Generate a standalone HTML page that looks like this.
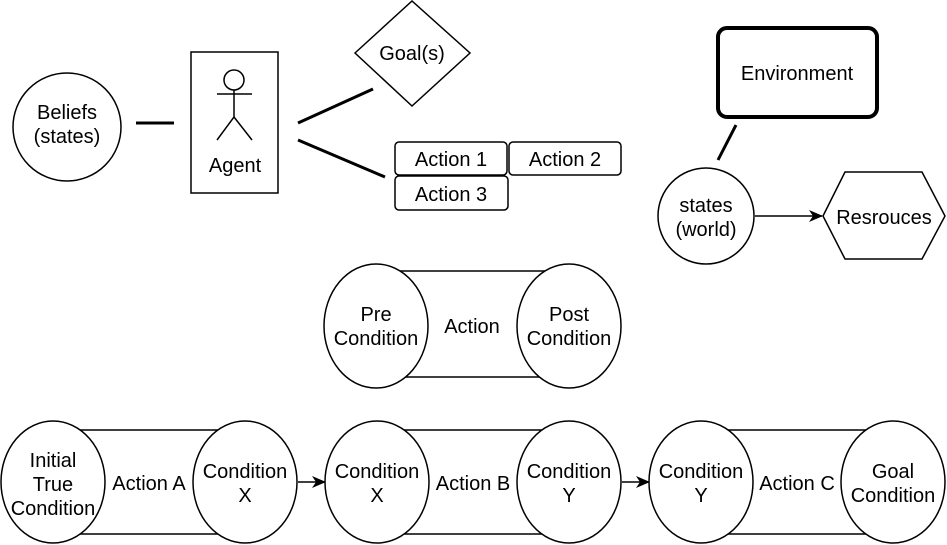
<!DOCTYPE html>
<html><head><style>
html,body{margin:0;padding:0;background:#fff;}
svg{display:block;}
text{font-family:"Liberation Sans",Arial,sans-serif;font-size:20px;fill:#000;text-anchor:middle;}
</style></head><body>
<svg width="947" height="545" viewBox="0 0 947 545" xmlns="http://www.w3.org/2000/svg">
<defs><marker id="ar" markerWidth="14" markerHeight="12" refX="13" refY="6" orient="auto" markerUnits="userSpaceOnUse"><path d="M0,0 L14,6 L0,12 L4,6 Z" fill="#000"/></marker></defs>
<g fill="#fff" stroke="#000" stroke-width="1.5">
<circle cx="67" cy="127" r="54"/>
<rect x="191" y="52" width="87" height="141"/>
<circle cx="234" cy="80" r="10"/>
<polygon points="355,53 412,1 470,53 412,106"/>
<rect x="395" y="142" width="112" height="33" rx="4"/>
<rect x="509" y="142" width="112" height="33" rx="4"/>
<rect x="395" y="176" width="113" height="34" rx="4"/>
<rect x="718" y="28" width="159" height="89" rx="9" stroke-width="4"/>
<circle cx="706" cy="216" r="48"/>
<polygon points="823,216 845,172 922,172 945,216 922,259 845,259"/>
</g>
<g stroke="#000" fill="none">
<line x1="136" y1="123" x2="174" y2="123" stroke-width="3"/>
<line x1="234" y1="90" x2="234" y2="117" stroke-width="1.5"/>
<line x1="217" y1="94" x2="252" y2="94" stroke-width="1.5"/>
<polyline points="217,140 234,117 252,140" stroke-width="1.5"/>
<line x1="298" y1="123" x2="373" y2="89" stroke-width="3"/>
<line x1="298" y1="140" x2="385" y2="177" stroke-width="3"/>
<line x1="736" y1="125" x2="718" y2="160" stroke-width="3"/>
<line x1="755" y1="216" x2="822" y2="216" stroke-width="1.5" marker-end="url(#ar)"/>
<line x1="298" y1="482" x2="325" y2="482" stroke-width="1.5" marker-end="url(#ar)"/>
<line x1="622" y1="482" x2="649" y2="482" stroke-width="1.5" marker-end="url(#ar)"/>
</g>
<g fill="#fff" stroke="#000" stroke-width="1.5">
<path d="M376,271 H569 M376,377 H569"/>
<ellipse cx="569" cy="326" rx="52" ry="62"/>
<ellipse cx="376" cy="326" rx="52" ry="62"/>
<path d="M53,430 H245 M53,534 H245 M377,430 H569 M377,534 H569 M701,430 H893 M701,534 H893"/>
<ellipse cx="245" cy="482" rx="52" ry="61"/>
<ellipse cx="53" cy="482" rx="52" ry="61"/>
<ellipse cx="569" cy="482" rx="52" ry="61"/>
<ellipse cx="377" cy="482" rx="52" ry="61"/>
<ellipse cx="893" cy="482" rx="52" ry="61"/>
<ellipse cx="701" cy="482" rx="52" ry="61"/>
</g>
<text x="67" y="119">Beliefs</text><text x="67" y="143">(states)</text>
<text x="235" y="172">Agent</text>
<text x="412" y="60">Goal(s)</text>
<text x="451" y="166">Action 1</text>
<text x="565" y="166">Action 2</text>
<text x="451" y="201">Action 3</text>
<text x="797" y="80">Environment</text>
<text x="706" y="212">states</text><text x="706" y="236">(world)</text>
<text x="884" y="224">Resrouces</text>
<text x="376" y="321">Pre</text><text x="376" y="345">Condition</text>
<text x="472" y="333">Action</text>
<text x="569" y="321">Post</text><text x="569" y="345">Condition</text>
<text x="53" y="467">Initial</text><text x="53" y="491">True</text><text x="53" y="515">Condition</text>
<text x="149" y="490">Action A</text>
<text x="245" y="478">Condition</text><text x="245" y="502">X</text>
<text x="377" y="478">Condition</text><text x="377" y="502">X</text>
<text x="473" y="490">Action B</text>
<text x="569" y="478">Condition</text><text x="569" y="502">Y</text>
<text x="701" y="478">Condition</text><text x="701" y="502">Y</text>
<text x="797" y="490">Action C</text>
<text x="893" y="478">Goal</text><text x="893" y="502">Condition</text>
</svg>
</body></html>
